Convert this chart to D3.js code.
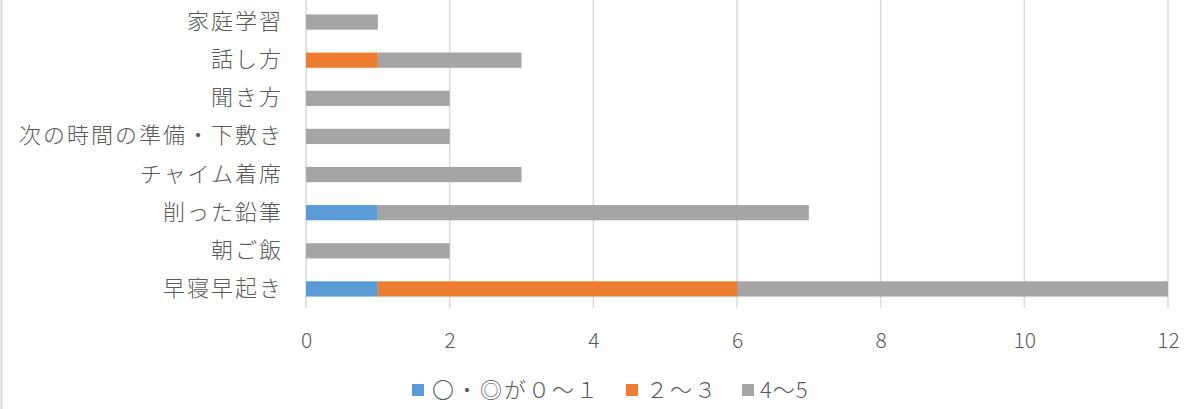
<!DOCTYPE html>
<html>
<head>
<meta charset="utf-8">
<script src="https://cdn.jsdelivr.net/npm/d3@7"></script>
<style>
  body { margin: 0; background: #fff; }
  text { font-family: "Noto Sans CJK JP", "Noto Sans", sans-serif; fill: #595959; font-weight: 300; }
</style>
</head>
<body>
<div id="chart"></div>
<script>
var categories = ["家庭学習", "話し方", "聞き方", "次の時間の準備・下敷き", "チャイム着席", "削った鉛筆", "朝ご飯", "早寝早起き"];
var seriesNames = ["〇・◎が０～１", "２～３", "4～5"];
var seriesColors = ["#5b9bd5", "#ed7d31", "#a5a5a5"];
var low = [0, 0, 0, 0, 0, 1, 0, 1];
var mid = [0, 1, 0, 0, 0, 0, 0, 5];
var high = [1, 2, 2, 2, 3, 6, 2, 6];
var xTicks = [0, 2, 4, 6, 8, 10, 12];

var width = 1189;
var height = 409;
var margin = { left: 306, right: 21, top: 3, bottom: 101 };

var svg = d3.select("#chart").append("svg")
    .attr("width", width)
    .attr("height", height);

// left border like the original frame
svg.append("line")
    .attr("x1", 1.5).attr("x2", 1.5)
    .attr("y1", 0).attr("y2", height)
    .attr("stroke", "#d9d9d9").attr("stroke-width", 2);

var rows = categories.map(function (c, i) {
    return { cat: c, v0: low[i], v1: mid[i], v2: high[i] };
});

var stack = d3.stack().keys(["v0", "v1", "v2"]);
var layers = stack(rows);

var xScale = d3.scaleLinear()
    .domain([0, 12])
    .range([margin.left, width - margin.right]);

var yScale = d3.scaleBand()
    .domain(categories)
    .range([margin.top, height - margin.bottom])
    .paddingInner(0.6)
    .paddingOuter(0.3);

// gridlines
svg.append("g").selectAll("line")
    .data(xTicks)
    .enter().append("line")
    .attr("x1", function (d) { return xScale(d); })
    .attr("x2", function (d) { return xScale(d); })
    .attr("y1", 0)
    .attr("y2", height - margin.bottom)
    .attr("stroke", "#d9d9d9")
    .attr("stroke-width", 1.5);

// bars
svg.append("g").selectAll("g")
    .data(layers)
    .enter().append("g")
    .attr("fill", function (d, i) { return seriesColors[i]; })
    .selectAll("rect")
    .data(function (d) { return d; })
    .enter().append("rect")
    .attr("x", function (d) { return xScale(d[0]); })
    .attr("width", function (d) { return xScale(d[1]) - xScale(d[0]); })
    .attr("y", function (d) { return yScale(d.data.cat); })
    .attr("height", yScale.bandwidth());

// x axis
var xAxis = d3.axisBottom(xScale).tickValues(xTicks).tickSize(0).tickPadding(0);
var gx = svg.append("g")
    .attr("transform", "translate(0," + (height - margin.bottom) + ")")
    .call(xAxis);
gx.select(".domain").remove();
gx.selectAll("text")
    .attr("dy", 0)
    .attr("y", 40)
    .style("font-size", "21px");

// y axis
var yAxis = d3.axisLeft(yScale).tickSize(0).tickPadding(23);
var gy = svg.append("g")
    .attr("transform", "translate(" + margin.left + ",0)")
    .call(yAxis);
gy.select(".domain").remove();
gy.selectAll("text")
    .style("font-size", "22px")
    .style("letter-spacing", "2px");

// legend
var legendX = [412, 626, 742];
var legend = svg.append("g").selectAll("g")
    .data(seriesNames)
    .enter().append("g")
    .attr("transform", function (d, i) { return "translate(" + legendX[i] + ",390)"; });
legend.append("rect")
    .attr("x", 0).attr("y", -6)
    .attr("width", 12).attr("height", 12)
    .attr("fill", function (d, i) { return seriesColors[i]; });
legend.append("text")
    .attr("x", function (d, i) { return i == 2 ? 18 : 20; })
    .attr("dy", "0.35em")
    .style("font-size", "22px")
    .style("letter-spacing", function (d, i) { return i == 2 ? "1px" : "2px"; })
    .text(function (d) { return d; });
</script>
</body>
</html>
